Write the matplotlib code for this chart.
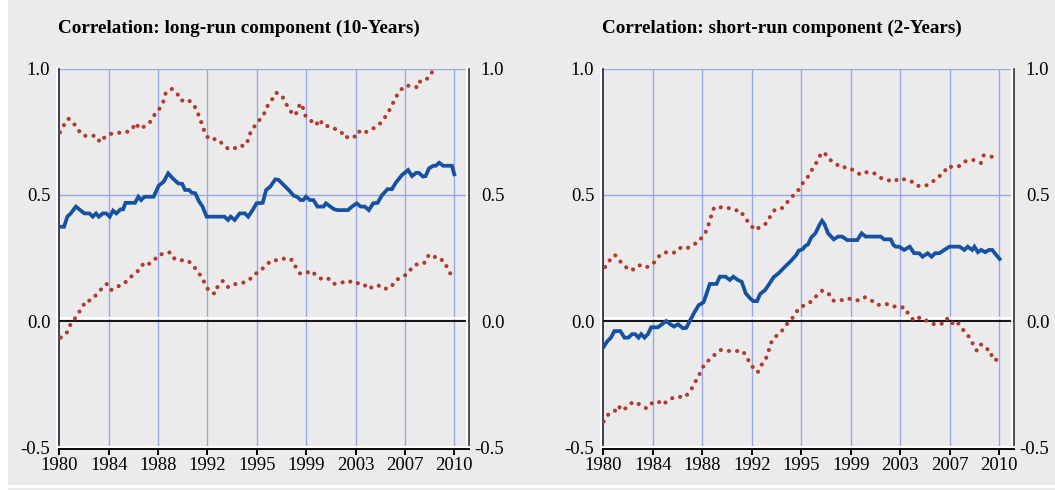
import matplotlib
matplotlib.use("Agg")
import matplotlib.pyplot as plt
from matplotlib.transforms import offset_copy
from matplotlib.patches import Rectangle

# ---------------- data ----------------
tick_pos = [1980, 1983.75, 1987.5, 1991.25, 1995, 1998.75, 2002.5, 2006.25, 2010]
tick_labels = ['1980', '1984', '1988', '1992', '1995', '1999', '2003', '2007', '2010']
y_ticks = [-0.5, 0.0, 0.5, 1.0]
y_labels = ['-0.5', '0.0', '0.5', '1.0']
titles = ['Correlation: long-run component (10-Years)',
          'Correlation: short-run component (2-Years)']

# Left panel: long-run component
lr_mid_x = [1980.05, 1980.36, 1980.61, 1980.87, 1981.26, 1981.59, 1981.90, 1982.28, 1982.54, 1982.79,
            1983.00, 1983.31, 1983.57, 1983.83, 1984.08, 1984.33, 1984.65, 1984.85, 1985.03, 1985.75,
            1986.00, 1986.21, 1986.47, 1987.16, 1987.55, 1987.93, 1988.27, 1988.62, 1989.03, 1989.34,
            1989.55, 1989.85, 1990.06, 1990.32, 1990.63, 1990.88, 1991.19, 1992.55, 1992.81, 1993.01,
            1993.32, 1993.70, 1994.09, 1994.35, 1994.68, 1994.98, 1995.45, 1995.71, 1996.02, 1996.40,
            1996.65, 1997.04, 1997.42, 1997.81, 1998.07, 1998.32, 1998.53, 1998.73, 1999.04, 1999.30,
            1999.61, 2000.07, 2000.25, 2000.58, 2000.89, 2001.15, 2001.92, 2002.23, 2002.58, 2002.89,
            2003.20, 2003.51, 2003.84, 2004.18, 2004.48, 2004.92, 2005.26, 2005.56, 2006.02, 2006.49,
            2006.79, 2007.10, 2007.30, 2007.62, 2007.82, 2008.08, 2008.41, 2008.59, 2008.85, 2009.15,
            2009.82, 2010.00]
lr_mid_y = [0.374, 0.374, 0.414, 0.427, 0.454, 0.440, 0.427, 0.427, 0.414, 0.427,
            0.414, 0.427, 0.427, 0.414, 0.438, 0.427, 0.443, 0.443, 0.469, 0.469,
            0.493, 0.480, 0.493, 0.493, 0.537, 0.553, 0.586, 0.566, 0.546, 0.544,
            0.520, 0.520, 0.509, 0.507, 0.473, 0.454, 0.414, 0.414, 0.401, 0.414,
            0.401, 0.427, 0.427, 0.414, 0.440, 0.467, 0.469, 0.520, 0.533, 0.562,
            0.560, 0.540, 0.520, 0.497, 0.493, 0.480, 0.480, 0.493, 0.480, 0.480,
            0.454, 0.454, 0.467, 0.454, 0.443, 0.440, 0.440, 0.454, 0.467, 0.454,
            0.454, 0.440, 0.467, 0.469, 0.497, 0.523, 0.523, 0.549, 0.579, 0.599,
            0.575, 0.588, 0.588, 0.573, 0.575, 0.606, 0.616, 0.616, 0.628, 0.616,
            0.616, 0.582]

lr_up_x = [1980.05, 1980.36, 1980.69, 1981.10, 1981.43, 1981.84, 1982.79, 1983.10, 1983.51, 1983.95,
           1984.39, 1984.97, 1985.49, 1985.82, 1986.08, 1986.60, 1987.01, 1987.29, 1987.67, 1987.93,
           1988.08, 1988.54, 1988.98, 1989.26, 1989.72, 1990.16, 1990.45, 1990.65, 1990.88, 1991.06,
           1991.37, 1991.99, 1992.42, 1992.83, 1993.25, 1993.66, 1994.07, 1994.37, 1994.53, 1994.86,
           1995.24, 1995.58, 1995.81, 1996.17, 1996.47, 1996.91, 1997.19, 1997.45, 1997.84, 1998.14,
           1998.27, 1998.55, 1998.71, 1999.09, 1999.48, 1999.79, 2000.04, 2000.50, 2000.91, 2001.41,
           2001.71, 2002.17, 2002.56, 2002.84, 2003.30, 2003.81, 2004.25, 2004.63, 2004.97, 2005.26,
           2005.56, 2005.87, 2006.25, 2006.84, 2007.25, 2007.43, 2008.03, 2008.33]
lr_up_y = [0.749, 0.778, 0.803, 0.784, 0.758, 0.735, 0.735, 0.709, 0.733, 0.743,
           0.747, 0.747, 0.758, 0.786, 0.763, 0.775, 0.796, 0.824, 0.846, 0.874,
           0.905, 0.921, 0.900, 0.874, 0.880, 0.862, 0.836, 0.806, 0.775, 0.746,
           0.721, 0.722, 0.702, 0.683, 0.683, 0.697, 0.694, 0.720, 0.750, 0.775,
           0.800, 0.825, 0.853, 0.880, 0.906, 0.894, 0.866, 0.840, 0.815, 0.834,
           0.864, 0.842, 0.812, 0.796, 0.777, 0.800, 0.775, 0.773, 0.763, 0.750,
           0.726, 0.737, 0.729, 0.757, 0.750, 0.763, 0.777, 0.800, 0.827, 0.856,
           0.888, 0.913, 0.934, 0.933, 0.926, 0.955, 0.963, 0.989]

lr_lo_x = [1980.11, 1980.54, 1980.77, 1981.08, 1981.39, 1981.75, 1982.00, 1982.34, 1982.77, 1983.18,
           1983.59, 1983.90, 1984.39, 1984.90, 1985.28, 1985.70, 1986.13, 1986.44, 1986.85, 1987.26,
           1987.60, 1988.01, 1988.42, 1988.78, 1989.29, 1989.70, 1990.09, 1990.45, 1990.80, 1991.08,
           1991.37, 1991.83, 1992.04, 1992.42, 1992.83, 1993.32, 1993.91, 1994.42, 1994.78, 1995.24,
           1995.68, 1996.14, 1996.73, 1997.25, 1997.71, 1997.96, 1998.27, 1998.71, 1999.14, 1999.53,
           2000.00, 2000.43, 2000.84, 2001.41, 2001.97, 2002.43, 2002.84, 2003.20, 2003.51, 2003.87,
           2004.35, 2004.69, 2005.20, 2005.51, 2006.02, 2006.49, 2006.82, 2007.25, 2007.72, 2007.90,
           2008.31, 2008.77, 2009.15, 2009.41, 2009.69, 2009.98]
lr_lo_y = [-0.066, -0.050, -0.020, 0.001, 0.028, 0.053, 0.081, 0.081, 0.102, 0.126,
           0.147, 0.122, 0.136, 0.147, 0.168, 0.187, 0.205, 0.233, 0.227, 0.245,
           0.265, 0.265, 0.273, 0.245, 0.241, 0.241, 0.226, 0.200, 0.175, 0.147,
           0.118, 0.108, 0.139, 0.159, 0.134, 0.146, 0.151, 0.162, 0.184, 0.197,
           0.221, 0.241, 0.241, 0.251, 0.241, 0.214, 0.189, 0.189, 0.200, 0.179,
           0.164, 0.168, 0.147, 0.152, 0.160, 0.147, 0.152, 0.142, 0.126, 0.140,
           0.140, 0.127, 0.134, 0.160, 0.175, 0.188, 0.216, 0.227, 0.230, 0.255,
           0.265, 0.242, 0.242, 0.217, 0.189, 0.164]

# Right panel: short-run component
sr_mid_x = [1980.03, 1980.28, 1980.58, 1980.84, 1981.29, 1981.60, 1981.90, 1982.18, 1982.41, 1982.67,
            1982.87, 1983.12, 1983.38, 1983.63, 1984.14, 1984.44, 1984.77, 1985.08, 1985.36, 1985.66,
            1986.04, 1986.29, 1986.55, 1986.93, 1987.23, 1987.59, 1987.79, 1988.07, 1988.58, 1988.83,
            1989.26, 1989.59, 1989.85, 1990.18, 1990.48, 1990.79, 1991.12, 1991.37, 1991.65, 1991.88,
            1992.26, 1992.56, 1992.89, 1993.27, 1993.78, 1994.21, 1994.62, 1994.80, 1995.10, 1995.31,
            1995.51, 1995.76, 1996.07, 1996.37, 1996.57, 1996.75, 1997.03, 1997.46, 1997.79, 1998.10,
            1998.48, 1999.24, 1999.57, 1999.87, 2001.02, 2001.27, 2001.78, 2001.98, 2002.16, 2002.41,
            2002.79, 2003.22, 2003.55, 2003.93, 2004.19, 2004.57, 2004.87, 2005.15, 2005.46, 2005.84,
            2006.22, 2006.99, 2007.36, 2007.61, 2007.95, 2008.12, 2008.38, 2008.63, 2008.93, 2009.21,
            2009.47, 2009.77, 2010.03]
sr_mid_y = [-0.102, -0.082, -0.066, -0.040, -0.040, -0.066, -0.066, -0.052, -0.052, -0.066,
            -0.052, -0.066, -0.052, -0.025, -0.025, -0.013, 0.000, -0.013, -0.022, -0.013,
            -0.029, -0.027, 0.000, 0.037, 0.063, 0.074, 0.103, 0.147, 0.147, 0.176,
            0.176, 0.163, 0.176, 0.163, 0.156, 0.110, 0.090, 0.079, 0.079, 0.107,
            0.123, 0.146, 0.173, 0.189, 0.216, 0.238, 0.262, 0.279, 0.285, 0.298,
            0.304, 0.332, 0.348, 0.381, 0.398, 0.385, 0.348, 0.324, 0.335, 0.335,
            0.321, 0.321, 0.348, 0.335, 0.335, 0.324, 0.324, 0.302, 0.295, 0.295,
            0.282, 0.295, 0.269, 0.269, 0.255, 0.269, 0.255, 0.269, 0.269, 0.282,
            0.295, 0.295, 0.282, 0.295, 0.282, 0.295, 0.273, 0.282, 0.273, 0.282,
            0.282, 0.262, 0.246]

sr_up_x = [1980.13, 1980.38, 1980.89, 1981.14, 1981.55, 1981.90, 1982.44, 1982.79, 1983.27, 1983.78,
           1984.06, 1984.47, 1985.00, 1985.43, 1985.84, 1986.27, 1986.78, 1987.26, 1987.56, 1987.87,
           1988.02, 1988.20, 1988.40, 1988.91, 1989.34, 1989.82, 1990.41, 1990.69, 1991.12, 1991.45,
           1991.90, 1992.39, 1992.67, 1992.97, 1993.50, 1993.93, 1994.29, 1994.70, 1994.95, 1995.30,
           1995.66, 1995.89, 1996.24, 1996.50, 1996.75, 1997.06, 1997.54, 1998.00, 1998.43, 1998.93,
           1999.42, 1999.77, 2000.13, 2000.53, 2000.94, 2001.50, 2002.01, 2002.46, 2002.92, 2003.43,
           2003.81, 2004.39, 2004.87, 2005.33, 2005.79, 2006.07, 2006.52, 2007.06, 2007.49, 2008.12,
           2008.61, 2008.81, 2009.16, 2009.57]
sr_up_y = [0.214, 0.235, 0.262, 0.242, 0.226, 0.202, 0.206, 0.222, 0.213, 0.227,
           0.249, 0.269, 0.275, 0.271, 0.290, 0.286, 0.302, 0.315, 0.341, 0.361,
           0.392, 0.421, 0.451, 0.451, 0.452, 0.440, 0.438, 0.410, 0.386, 0.361,
           0.373, 0.389, 0.417, 0.440, 0.446, 0.471, 0.493, 0.512, 0.536, 0.560,
           0.582, 0.610, 0.635, 0.665, 0.669, 0.643, 0.628, 0.608, 0.611, 0.599,
           0.583, 0.593, 0.587, 0.586, 0.569, 0.560, 0.553, 0.567, 0.560, 0.552,
           0.536, 0.536, 0.549, 0.570, 0.586, 0.614, 0.610, 0.616, 0.636, 0.639,
           0.627, 0.657, 0.652, 0.652]

sr_lo_x = [1980.03, 1980.33, 1980.84, 1981.09, 1981.52, 1981.85, 1982.31, 1982.82, 1983.27, 1983.73,
           1984.14, 1984.39, 1984.72, 1985.15, 1985.71, 1986.14, 1986.57, 1986.85, 1987.13, 1987.44,
           1987.64, 1988.05, 1988.48, 1988.91, 1989.39, 1989.97, 1990.56, 1990.89, 1991.14, 1991.45,
           1991.70, 1991.95, 1992.31, 1992.51, 1992.66, 1992.94, 1993.38, 1993.73, 1994.04, 1994.47,
           1994.75, 1995.23, 1995.76, 1996.14, 1996.57, 1997.03, 1997.39, 1997.97, 1998.43, 1998.91,
           1999.37, 1999.82, 2000.33, 2000.76, 2001.14, 2001.70, 2002.21, 2002.84, 2003.12, 2003.55,
           2004.01, 2004.54, 2005.03, 2005.61, 2006.02, 2006.32, 2006.78, 2007.08, 2007.44, 2007.74,
           2008.00, 2008.30, 2008.60, 2009.06, 2009.26, 2009.65, 2009.82]
sr_lo_y = [-0.399, -0.373, -0.360, -0.336, -0.356, -0.336, -0.320, -0.333, -0.347, -0.324,
           -0.327, -0.313, -0.324, -0.307, -0.300, -0.304, -0.280, -0.254, -0.225, -0.198,
           -0.172, -0.153, -0.132, -0.115, -0.119, -0.119, -0.119, -0.144, -0.172, -0.190,
           -0.204, -0.177, -0.151, -0.122, -0.091, -0.066, -0.049, -0.026, -0.003, 0.020,
           0.046, 0.063, 0.077, 0.099, 0.120, 0.112, 0.081, 0.081, 0.090, 0.086,
           0.081, 0.094, 0.081, 0.063, 0.067, 0.067, 0.054, 0.054, 0.027, 0.001,
           0.015, 0.000, -0.012, -0.012, 0.011, -0.012, 0.001, -0.025, -0.045, -0.065,
           -0.091, -0.118, -0.093, -0.106, -0.135, -0.135, -0.164]

# ---------------- styling ----------------
W, H, DPI = 1055, 490, 100
BG = '#ebebeb'
BLUE = '#1552a2'
RED = '#b23a2f'
GRID = '#9aa9e6'
FONT = ['Liberation Serif', 'DejaVu Serif']
FS = 13.5

fig = plt.figure(figsize=(W / DPI, H / DPI), dpi=DPI, facecolor=BG)

# thin white strips on the outer frame
fig.patches.append(Rectangle((0, 0), 8 / W, 1, transform=fig.transFigure,
                             facecolor='white', edgecolor='none', zorder=-5))
fig.patches.append(Rectangle((0, 2 / H), 1, 3 / H, transform=fig.transFigure,
                             facecolor='white', edgecolor='none', zorder=-5))

bottom = 1 - 447 / H
height = (447 - 69) / H
panels = [
    dict(left=59.3 / W, width=(469.3 - 59.3) / W, title=titles[0],
         mid=(lr_mid_x, lr_mid_y), up=(lr_up_x, lr_up_y), lo=(lr_lo_x, lr_lo_y)),
    dict(left=603.3 / W, width=(1014.3 - 603.3) / W, title=titles[1],
         mid=(sr_mid_x, sr_mid_y), up=(sr_up_x, sr_up_y), lo=(sr_lo_x, sr_lo_y)),
]

XMAX = 1980 + 30 * (410.0 / 395.0)

for p in panels:
    ax = fig.add_axes([p['left'], bottom, p['width'], height])
    ax.set_facecolor(BG)
    ax.set_xlim(1980, XMAX)
    ax.set_ylim(-0.5, 1.0)

    # grid
    for t in tick_pos[1:]:
        ax.axvline(t, color=GRID, lw=1.0, zorder=1)
    for yv in [0.5, 1.0]:
        ax.axhline(yv, color=GRID, lw=1.0, zorder=1)

    # zero line with white highlight above
    ax.plot([0, 1], [0, 0], transform=offset_copy(ax.get_yaxis_transform(), fig=fig, x=0, y=2.5, units='dots'),
            color='white', lw=1.6, zorder=2, solid_capstyle='butt')
    ax.axhline(0.0, color='black', lw=1.3, zorder=2)

    # series
    ax.plot(*p['up'], color=RED, lw=3.0, linestyle=(0, (0.01, 1.95)),
            dash_capstyle='round', zorder=3)
    ax.plot(*p['lo'], color=RED, lw=3.0, linestyle=(0, (0.01, 1.95)),
            dash_capstyle='round', zorder=3)
    ax.plot(*p['mid'], color=BLUE, lw=2.7, zorder=4, solid_joinstyle='miter')

    # spines
    ax.spines['top'].set_visible(False)
    ax.spines['left'].set_color('#1c1c3c')
    ax.spines['left'].set_linewidth(1.2)
    ax.spines['right'].set_color('#333333')
    ax.spines['right'].set_linewidth(1.2)
    ax.spines['bottom'].set_color('black')
    ax.spines['bottom'].set_linewidth(1.4)
    ax.spines['bottom'].set_position(('outward', 1.5))

    # white highlight lines next to the frame
    ax.plot([0, 0], [0, 1], transform=offset_copy(ax.transAxes, fig=fig, x=-2, y=0, units='dots'),
            color='white', lw=1.5, clip_on=False, zorder=5)
    ax.plot([1, 1], [0, 1], transform=offset_copy(ax.transAxes, fig=fig, x=-2.5, y=0, units='dots'),
            color='white', lw=1.5, clip_on=False, zorder=5)
    ax.plot([0, 1], [0, 0], transform=offset_copy(ax.transAxes, fig=fig, x=0, y=0.5, units='dots'),
            color='white', lw=1.5, clip_on=False, zorder=5)

    # x ticks
    ax.set_xticks(tick_pos)
    ax.set_xticklabels(tick_labels, fontfamily=FONT, fontsize=FS)
    ax.tick_params(axis='x', direction='out', length=4.5, width=1.4, color='black', pad=1.5)

    # left y labels
    ax.set_yticks(y_ticks)
    ax.set_yticklabels(y_labels, fontfamily=FONT, fontsize=FS)
    ax.tick_params(axis='y', length=0, pad=6.5, left=False, right=False)

    # right y labels (right-aligned, via a twin axis)
    ax2 = ax.twinx()
    ax2.set_ylim(-0.5, 1.0)
    ax2.set_yticks(y_ticks)
    ax2.set_yticklabels(y_labels, fontfamily=FONT, fontsize=FS, ha='right')
    ax2.tick_params(axis='y', length=0, pad=35 * 72 / DPI)
    ax2.patch.set_visible(False)
    for s in ax2.spines.values():
        s.set_visible(False)
    ax2.set_xlim(ax.get_xlim())

    fig.text(p['left'] - 1 / W, 1 - 33 / H, p['title'], ha='left', va='baseline',
             fontfamily=FONT, fontweight='bold', fontsize=13.8)

fig.savefig('out.png', dpi=DPI, facecolor=BG)
